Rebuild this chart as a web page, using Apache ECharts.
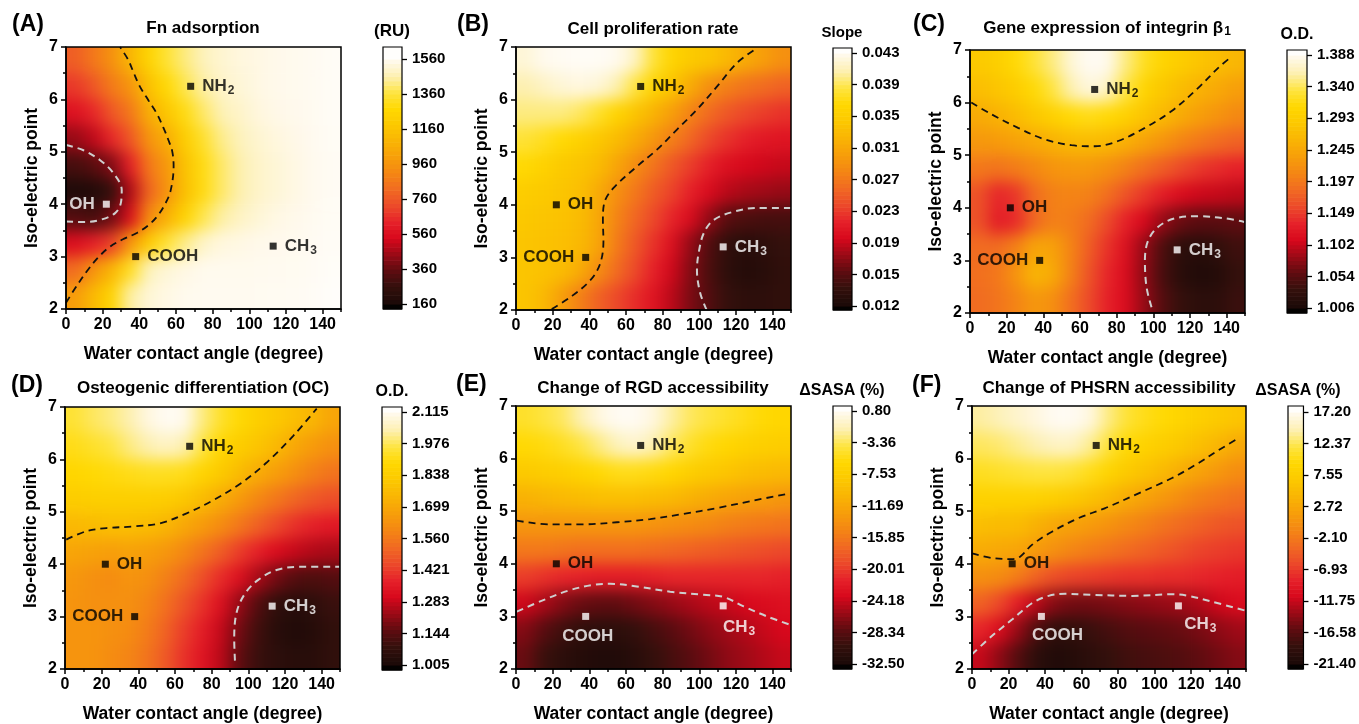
<!DOCTYPE html>
<html><head><meta charset="utf-8">
<script src="https://cdn.jsdelivr.net/npm/echarts@6/dist/echarts.min.js"></script>
<style>html,body{margin:0;padding:0;background:#fff}
#wrap{position:relative;width:1359px;height:724px}
#h,#c{position:absolute;left:0;top:0;width:1359px;height:724px}
#h{filter:blur(8px)}
</style>
</head><body><div id="wrap"><div id="h"></div><div id="c"></div></div>
<script>
// ---------- data ----------
const xCells=[5,15,25,35,45,55,65,75,85,95,105,115,125,135,145];
const yCells=[6.75,6.25,5.75,5.25,4.75,4.25,3.75,3.25,2.75,2.25]; // rows, top to bottom
const xTicks=[0,20,40,60,80,100,120,140];
const xMinorTicks=[10,30,50,70,90,110,130,150];
const yTicks=[2,3,4,5,6,7];
const yMinorTicks=[2.5,3.5,4.5,5.5,6.5];
const markerNames=['NH2','OH','COOH','CH3'];
const markerX=[68,22,38,113];
const markerY=[6.25,4.0,3.0,3.2];

const valsA=[
[780,860,950,1100,1250,1350,1420,1480,1510,1530,1540,1550,1560,1580,1600],
[680,760,870,960,1150,1280,1380,1450,1500,1520,1540,1550,1560,1580,1600],
[570,640,760,860,1060,1180,1300,1400,1470,1500,1530,1545,1555,1575,1600],
[440,500,640,760,960,1060,1220,1340,1430,1480,1510,1530,1545,1570,1595],
[300,340,410,620,860,980,1160,1300,1400,1460,1500,1520,1540,1565,1590],
[180,190,260,480,800,960,1150,1300,1400,1460,1500,1520,1540,1565,1590],
[330,300,380,560,930,1080,1250,1380,1450,1490,1520,1540,1550,1575,1595],
[560,620,700,980,1200,1350,1430,1500,1530,1540,1550,1555,1565,1585,1600],
[820,960,1100,1320,1480,1520,1540,1560,1560,1560,1565,1570,1575,1590,1610],
[990,1120,1250,1450,1520,1540,1560,1570,1570,1570,1575,1580,1585,1600,1620]];
const valsB=[
[0.0421,0.0430,0.0436,0.0439,0.0439,0.0430,0.0415,0.0384,0.0362,0.0349,0.0343,0.0331,0.0318,0.0306,0.0294],
[0.0408,0.0415,0.0421,0.0424,0.0421,0.0408,0.0387,0.0362,0.0343,0.0318,0.0294,0.0281,0.0272,0.0266,0.0260],
[0.0399,0.0399,0.0399,0.0393,0.0380,0.0362,0.0343,0.0325,0.0306,0.0284,0.0266,0.0253,0.0244,0.0238,0.0232],
[0.0384,0.0377,0.0368,0.0359,0.0346,0.0334,0.0318,0.0300,0.0281,0.0263,0.0244,0.0232,0.0222,0.0216,0.0213],
[0.0368,0.0359,0.0349,0.0343,0.0334,0.0312,0.0291,0.0272,0.0253,0.0238,0.0222,0.0210,0.0204,0.0201,0.0198],
[0.0353,0.0349,0.0343,0.0337,0.0318,0.0294,0.0275,0.0256,0.0241,0.0222,0.0207,0.0194,0.0188,0.0185,0.0182],
[0.0346,0.0343,0.0340,0.0334,0.0315,0.0284,0.0263,0.0244,0.0225,0.0207,0.0182,0.0160,0.0154,0.0151,0.0151],
[0.0343,0.0340,0.0337,0.0331,0.0312,0.0278,0.0253,0.0232,0.0210,0.0182,0.0157,0.0139,0.0132,0.0136,0.0142],
[0.0343,0.0340,0.0334,0.0318,0.0291,0.0266,0.0244,0.0222,0.0201,0.0176,0.0154,0.0136,0.0129,0.0132,0.0139],
[0.0343,0.0331,0.0306,0.0281,0.0260,0.0244,0.0229,0.0213,0.0194,0.0173,0.0157,0.0142,0.0136,0.0136,0.0139]];
const valsC=[
[1.289,1.296,1.312,1.331,1.350,1.377,1.396,1.388,1.350,1.323,1.304,1.293,1.281,1.273,1.262],
[1.273,1.281,1.293,1.312,1.335,1.361,1.380,1.369,1.335,1.304,1.285,1.270,1.258,1.247,1.235],
[1.250,1.258,1.270,1.285,1.300,1.312,1.319,1.312,1.300,1.281,1.266,1.250,1.235,1.224,1.212],
[1.228,1.231,1.239,1.247,1.258,1.266,1.270,1.266,1.254,1.239,1.224,1.208,1.197,1.186,1.178],
[1.197,1.193,1.201,1.212,1.224,1.228,1.228,1.220,1.205,1.189,1.174,1.159,1.147,1.140,1.132],
[1.166,1.136,1.147,1.186,1.205,1.208,1.205,1.189,1.166,1.147,1.128,1.113,1.105,1.102,1.098],
[1.166,1.128,1.140,1.182,1.205,1.201,1.186,1.159,1.132,1.109,1.082,1.063,1.056,1.056,1.059],
[1.186,1.186,1.205,1.243,1.239,1.208,1.174,1.144,1.117,1.082,1.048,1.025,1.021,1.029,1.040],
[1.189,1.197,1.224,1.262,1.250,1.205,1.166,1.136,1.113,1.079,1.044,1.021,1.014,1.017,1.033],
[1.186,1.193,1.208,1.228,1.220,1.189,1.159,1.132,1.113,1.082,1.052,1.033,1.025,1.025,1.037]];
const valsD=[
[1.949,1.982,2.004,2.037,2.093,2.137,2.115,2.004,1.937,1.893,1.849,1.815,1.782,1.749,1.693],
[1.915,1.937,1.960,2.004,2.037,2.060,2.037,1.960,1.882,1.838,1.804,1.760,1.704,1.660,1.627],
[1.882,1.893,1.904,1.915,1.926,1.926,1.915,1.871,1.826,1.771,1.715,1.671,1.627,1.582,1.549],
[1.838,1.849,1.849,1.849,1.849,1.838,1.815,1.771,1.715,1.660,1.604,1.560,1.516,1.482,1.460],
[1.760,1.771,1.782,1.782,1.771,1.749,1.704,1.660,1.616,1.560,1.505,1.449,1.405,1.371,1.349],
[1.693,1.682,1.671,1.682,1.671,1.649,1.604,1.549,1.493,1.427,1.371,1.316,1.283,1.260,1.249],
[1.649,1.627,1.616,1.638,1.627,1.582,1.527,1.460,1.394,1.327,1.249,1.183,1.138,1.127,1.138],
[1.638,1.627,1.627,1.627,1.593,1.538,1.471,1.405,1.327,1.227,1.138,1.072,1.049,1.061,1.094],
[1.638,1.638,1.627,1.616,1.571,1.505,1.427,1.360,1.283,1.183,1.105,1.049,1.027,1.038,1.072],
[1.638,1.638,1.616,1.593,1.549,1.482,1.405,1.338,1.271,1.160,1.094,1.061,1.049,1.049,1.072]];
const valsE=[
[-4.53,-3.86,-3.20,-1.53,0.13,1.47,1.47,0.13,-1.86,-3.20,-3.86,-4.53,-5.19,-5.86,-6.19],
[-5.86,-5.53,-4.86,-3.86,-2.53,-1.20,-0.53,-1.53,-3.20,-4.53,-5.53,-6.19,-6.86,-7.19,-7.53],
[-7.86,-7.53,-7.19,-6.53,-5.86,-5.19,-5.19,-5.53,-6.19,-7.19,-7.86,-8.52,-9.19,-9.52,-9.86],
[-10.52,-10.19,-9.86,-9.52,-9.19,-9.19,-9.19,-9.52,-9.86,-10.52,-11.19,-11.85,-12.19,-12.52,-13.19],
[-13.19,-13.19,-13.19,-13.19,-13.19,-13.19,-13.19,-13.52,-13.85,-14.19,-14.52,-15.18,-15.52,-15.85,-16.18],
[-15.85,-15.85,-16.18,-16.52,-16.52,-16.52,-16.52,-16.85,-17.18,-17.52,-17.85,-18.18,-18.51,-18.85,-19.18],
[-19.85,-20.51,-21.18,-21.51,-21.84,-21.84,-21.84,-21.51,-21.18,-21.18,-21.18,-21.18,-21.18,-21.18,-21.51],
[-23.84,-25.17,-26.51,-27.50,-27.84,-27.84,-27.17,-26.51,-25.84,-25.17,-24.51,-24.18,-23.51,-23.18,-22.84],
[-26.51,-28.17,-29.50,-30.50,-30.84,-30.84,-30.17,-29.17,-28.17,-27.17,-26.17,-25.51,-24.84,-24.18,-23.51],
[-27.50,-29.84,-30.84,-31.50,-31.83,-31.83,-31.17,-30.17,-29.17,-28.17,-27.17,-26.17,-25.51,-24.84,-24.18]];
const valsF=[
[14.11,14.88,15.66,16.43,17.97,17.97,16.43,13.34,11.41,10.25,9.48,8.71,7.94,7.16,6.39],
[12.57,12.95,13.73,14.50,15.27,15.27,13.73,11.41,9.48,8.32,7.55,6.78,5.62,4.46,2.92],
[10.64,11.02,11.41,11.80,11.80,11.41,10.25,8.71,7.16,6.01,4.85,3.30,2.15,0.99,-0.17],
[8.32,8.32,8.32,8.32,7.94,7.16,6.01,4.85,3.30,2.15,0.99,-0.17,-1.33,-2.10,-2.87],
[5.62,5.23,5.23,4.08,2.92,2.15,1.37,0.60,-0.56,-1.33,-2.49,-3.26,-4.03,-4.80,-5.19],
[3.30,2.92,2.53,1.37,0.22,-0.94,-1.71,-2.49,-3.26,-4.03,-4.80,-5.57,-6.35,-6.73,-7.12],
[0.22,-0.17,-1.71,-4.03,-5.57,-6.35,-6.73,-7.12,-7.50,-7.50,-7.89,-7.89,-8.28,-8.66,-9.05],
[-4.03,-5.96,-9.05,-12.14,-14.45,-15.22,-15.22,-14.84,-14.45,-14.07,-13.68,-13.29,-12.52,-11.36,-10.59],
[-8.28,-10.59,-13.68,-17.15,-19.08,-19.08,-18.31,-17.54,-16.77,-16.38,-16.00,-15.61,-14.84,-14.07,-13.29],
[-11.75,-14.07,-16.77,-19.47,-20.63,-20.24,-19.47,-18.70,-17.93,-17.54,-17.15,-16.77,-16.00,-15.22,-14.45]];

const cbTicksA=['160','360','560','760','960','1160','1360','1560'];
const cbTicksB=['0.012','0.015','0.019','0.023','0.027','0.031','0.035','0.039','0.043'];
const cbTicksC=['1.006','1.054','1.102','1.149','1.197','1.245','1.293','1.340','1.388'];
const cbTicksD=['1.005','1.144','1.283','1.421','1.560','1.699','1.838','1.976','2.115'];
const cbTicksE=['-32.50','-28.34','-24.18','-20.01','-15.85','-11.69','-7.53','-3.36','0.80'];
const cbTicksF=['-21.40','-16.58','-11.75','-6.93','-2.10','2.72','7.55','12.37','17.20'];

const darkA=[[0,2.12],[6,2.45],[12,2.75],[18,3.0],[24,3.19],[31,3.33],[38.6,3.45],[45,3.6],[50,3.78],[54,4.0],[57,4.25],[58.7,4.72],[58,5.0],[55.9,5.22],[53,5.47],[49.5,5.73],[45,5.98],[40.4,6.24],[37,6.5],[34,6.75],[29.5,7.0]];
const lightA=[[0,5.13],[9.5,5.03],[18.6,4.84],[25.9,4.59],[30.4,4.27],[29.9,4.02],[26.8,3.83],[18.6,3.7],[9.5,3.66],[0,3.67]];
const darkB=[[19.5,2.02],[29.5,2.24],[40.4,2.56],[45.9,2.88],[47.7,3.32],[47.4,3.7],[48.1,4.03],[53.2,4.32],[66,4.73],[76.9,5.05],[87.8,5.43],[98.7,5.81],[109.7,6.25],[120.6,6.7],[131.5,6.98]];
const lightB=[[104,2.0],[100.5,2.32],[98.7,2.76],[99.6,3.08],[102.4,3.46],[107.8,3.71],[118.8,3.87],[131.5,3.94],[149.7,3.94]];
const darkC=[[0.7,6.0],[11.6,5.78],[26.2,5.52],[40.8,5.3],[55.3,5.19],[68.1,5.17],[80.8,5.27],[95.4,5.52],[110,5.84],[124.5,6.28],[135.4,6.66],[141.8,6.85]];
const lightC=[[99,2.11],[96.3,2.49],[95.4,3.0],[97.2,3.38],[102.7,3.64],[111.8,3.8],[124.5,3.84],[139.1,3.8],[149.6,3.73]];
const darkD=[[0.7,4.47],[11.7,4.63],[22.6,4.69],[37.1,4.72],[51.7,4.78],[66.3,4.97],[80.8,5.22],[95.4,5.53],[110,5.94],[124.5,6.45],[137.3,6.97]];
const lightD=[[92.7,2.16],[92.3,2.57],[93.6,3.08],[98.2,3.44],[105.4,3.70],[115.4,3.89],[128.2,3.95],[149.6,3.95]];
const darkE=[[0.4,4.82],[18.6,4.75],[36.8,4.75],[55,4.79],[73.2,4.85],[91.4,4.95],[109.6,5.06],[127.8,5.19],[149.6,5.34]];
const lightE=[[0.4,3.09],[14.9,3.31],[29.5,3.5],[42.2,3.6],[51.3,3.62],[65.9,3.57],[84.1,3.47],[102.3,3.41],[113.2,3.37],[124.2,3.19],[136.9,3.0],[149.6,2.84]];
const darkF=[[0,4.2],[11,4.11],[21.9,4.09],[26.5,4.14],[32.8,4.36],[43.8,4.61],[58.4,4.87],[73,5.06],[91.2,5.34],[109.5,5.63],[122.3,5.88],[135,6.16],[146,6.39]];
const lightF=[[0,2.28],[11,2.63],[21.9,2.94],[32.8,3.25],[41.9,3.39],[51.1,3.43],[65.7,3.41],[87.6,3.39],[109.5,3.42],[118.6,3.39],[131.4,3.28],[149.6,3.11]];

// ---------- styling / layout ----------
const FONT='"Liberation Sans", Arial, Helvetica, sans-serif';
const CMAP=['#000000','#1c0a08','#34100c','#5e0c10','#9a0a16','#d8081c','#e6222a','#ec4a2a','#f16a22','#f48614','#f79e0a','#f9b404','#fcc800','#ffd800','#fee440','#fdf0b0','#fff9ec','#ffffff'];
const BLK='#000', WHT='#fff';
const R=(pos,dx,dy)=>({pos:pos,off:[dx||0,dy||0]});
const panels=[
 {letter:'(A)',title:'Fn adsorption',unit:'(RU)',vals:valsA,ticks:cbTicksA,dark:darkA,light:lightA,
  grid:{left:66,top:47,width:275,height:262},cb:{left:383,top:47,width:19,height:262},extT:12,extB:5,
  letterPos:[12,25],titlePos:[203,28],unitPos:[392,31],
  mColors:[BLK,WHT,BLK,BLK],lColors:[BLK,WHT,BLK,BLK],lPos:[R('right'),R('left'),R('right'),R('right')]},
 {letter:'(B)',title:'Cell proliferation rate',unit:'Slope',vals:valsB,ticks:cbTicksB,dark:darkB,light:lightB,
  grid:{left:516,top:47,width:275,height:263},cb:{left:833,top:48,width:19,height:262},extT:5,extB:4,
  letterPos:[457,25],titlePos:[653,29],unitPos:[842,33],
  mColors:[BLK,BLK,BLK,WHT],lColors:[BLK,BLK,BLK,WHT],lPos:[R('right'),R('right'),R('left'),R('right')]},
 {letter:'(C)',title:'Gene expression of integrin β{s|1}',unit:'O.D.',vals:valsC,ticks:cbTicksC,dark:darkC,light:lightC,
  grid:{left:970,top:50,width:275,height:263},cb:{left:1287,top:50,width:20,height:263},extT:5,extB:5,
  letterPos:[913,25],titlePos:[1107,28],unitPos:[1297,35],
  mColors:[BLK,BLK,BLK,WHT],lColors:[BLK,BLK,BLK,WHT],lPos:[R('right'),R('right'),R('left'),R('right')]},
 {letter:'(D)',title:'Osteogenic differentiation (OC)',unit:'O.D.',vals:valsD,ticks:cbTicksD,dark:darkD,light:lightD,
  grid:{left:65,top:407,width:275,height:263},cb:{left:382,top:407,width:20,height:263},extT:5,extB:5,
  letterPos:[11,386],titlePos:[203,388],unitPos:[392,392],
  mColors:[BLK,BLK,BLK,WHT],lColors:[BLK,BLK,BLK,WHT],lPos:[R('right'),R('right'),R('left'),R('right')]},
 {letter:'(E)',title:'Change of RGD accessibility',unit:'ΔSASA (%)',vals:valsE,ticks:cbTicksE,dark:darkE,light:lightE,
  grid:{left:516,top:406,width:275,height:263},cb:{left:833,top:406,width:19,height:263},extT:5,extB:5,
  letterPos:[456,385],titlePos:[653,388],unitPos:[842,391],
  mColors:[BLK,BLK,WHT,WHT],lColors:[BLK,BLK,WHT,WHT],lPos:[R('right'),R('right'),R('bottom',2,0),R('bottom',16,-1)]},
 {letter:'(F)',title:'Change of PHSRN accessibility',unit:'ΔSASA (%)',vals:valsF,ticks:cbTicksF,dark:darkF,light:lightF,
  grid:{left:972,top:406,width:274,height:263},cb:{left:1288,top:406,width:20,height:263},extT:6,extB:5,
  letterPos:[912,386],titlePos:[1109,388],unitPos:[1298,391],
  mColors:[BLK,BLK,WHT,WHT],lColors:[BLK,BLK,WHT,WHT],lPos:[R('right'),R('right'),R('bottom',16,-1),R('bottom',22,-4)]}
];

const heatChart=echarts.init(document.getElementById('h'),null,{renderer:'canvas'});
const chart=echarts.init(document.getElementById('c'),null,{renderer:'canvas'});
const hOpt={animation:false,backgroundColor:'transparent',grid:[],xAxis:[],yAxis:[],series:[],visualMap:[]};
const option={animation:false,backgroundColor:'transparent',grid:[],xAxis:[],yAxis:[],series:[],visualMap:[],graphic:[]};
const DX=xCells[1]-xCells[0], DY=yCells[0]-yCells[1];
const EXT=24; // bleed of edge cells (hidden by clip) so the soft layer keeps its edge colours
const lineStyleAx={color:'#000',width:1.5};
const lblStyle={color:'#000',fontWeight:'bold',fontSize:16,fontFamily:FONT};
const nameStyle={color:'#000',fontWeight:'bold',fontSize:17.5,fontFamily:FONT};
function richName(n){return n.replace(/(\d+)/g,'{s|$1}').replace(/^([^{]+)/,'{b|$1}');}
let clipPath='';

panels.forEach(function(p){
  const g=p.grid;
  clipPath+='M'+g.left+','+g.top+' H'+(g.left+g.width)+' V'+(g.top+g.height)+' H'+g.left+' Z ';
  const tv=p.ticks.map(parseFloat);
  const T0=tv[0], T7=tv[tv.length-1], RG=T7-T0, n=p.ticks.length;
  const vmMin=T0-0.06*RG, vmMax=T7+0.06*RG;

  // ---- soft cell layer ----
  const hgi=hOpt.grid.length;
  hOpt.grid.push(Object.assign({show:false},g));
  hOpt.xAxis.push({gridIndex:hgi,type:'value',min:0,max:150,show:false});
  hOpt.yAxis.push({gridIndex:hgi,type:'value',min:2,max:7,show:false});
  const heat=[];
  p.vals.forEach(function(row,r){row.forEach(function(v,c){heat.push([xCells[c],yCells[r],v]);});});
  const hsi=hOpt.series.length;
  hOpt.series.push({type:'custom',xAxisIndex:hgi,yAxisIndex:hgi,data:heat,silent:true,
    renderItem:function(params,api){
      const x=api.value(0),y=api.value(1);
      const a=api.coord([x-DX/2,y+DY/2]), b=api.coord([x+DX/2,y-DY/2]);
      let x0=a[0],y0=a[1],x1=b[0]+0.6,y1=b[1]+0.6;
      if(x===xCells[0])x0-=EXT; if(x===xCells[xCells.length-1])x1+=EXT;
      if(y===yCells[0])y0-=EXT; if(y===yCells[yCells.length-1])y1+=EXT;
      return {type:'rect',shape:{x:x0,y:y0,width:x1-x0,height:y1-y0},style:{fill:api.visual('color')}};
    }});
  hOpt.visualMap.push({type:'continuous',show:false,seriesIndex:hsi,dimension:2,min:vmMin,max:vmMax,inRange:{color:CMAP}});

  // ---- main layer ----
  const gi=option.grid.length;
  option.grid.push(Object.assign({show:true,borderColor:'#000',borderWidth:1.5,backgroundColor:'transparent',z:6},g));
  option.grid.push(Object.assign({show:true,borderColor:'#000',borderWidth:1.2,backgroundColor:'transparent',z:6},p.cb));
  const cgi=gi+1;
  const xi=option.xAxis.length, yi=option.yAxis.length;
  option.xAxis.push({gridIndex:gi,type:'value',min:0,max:150,position:'bottom',z:6,
    name:'Water contact angle (degree)',nameLocation:'middle',nameGap:36,nameTextStyle:nameStyle,
    axisLine:{show:true,onZero:false,lineStyle:lineStyleAx},
    axisTick:{show:true,length:5,customValues:xTicks,lineStyle:lineStyleAx},
    axisLabel:Object.assign({customValues:xTicks,margin:8},lblStyle),splitLine:{show:false}});
  option.xAxis.push({gridIndex:gi,type:'value',min:0,max:150,position:'bottom',z:6,
    axisLine:{show:false,onZero:false},axisTick:{show:true,length:3,customValues:xMinorTicks,lineStyle:lineStyleAx},
    axisLabel:{show:false},splitLine:{show:false}});
  option.yAxis.push({gridIndex:gi,type:'value',min:2,max:7,position:'left',z:6,
    name:'Iso-electric point',nameLocation:'middle',nameGap:25,nameTextStyle:nameStyle,
    axisLine:{show:true,onZero:false,lineStyle:lineStyleAx},
    axisTick:{show:true,length:5,customValues:yTicks,lineStyle:lineStyleAx},
    axisLabel:Object.assign({customValues:yTicks,margin:8},lblStyle),splitLine:{show:false}});
  option.yAxis.push({gridIndex:gi,type:'value',min:2,max:7,position:'left',z:6,
    axisLine:{show:false,onZero:false},axisTick:{show:true,length:3,customValues:yMinorTicks,lineStyle:lineStyleAx},
    axisLabel:{show:false},splitLine:{show:false}});
  // colorbar axes
  const tickVals=p.ticks.map(function(_,k){return T0+k*RG/(n-1);});
  const pxPer=RG/(p.cb.height-p.extT-p.extB);
  const cbMin=T0-p.extB*pxPer, cbMax=T7+p.extT*pxPer;
  option.xAxis.push({gridIndex:cgi,type:'value',min:0,max:1,show:false,axisLine:{onZero:false}});
  option.yAxis.push({gridIndex:cgi,type:'value',min:cbMin,max:cbMax,position:'right',z:6,
    axisLine:{show:false,onZero:false},
    axisTick:{show:true,length:5,customValues:tickVals,lineStyle:{color:'#000',width:1.3}},
    axisLabel:{customValues:tickVals,margin:10,color:'#000',fontWeight:'bold',fontSize:15,fontFamily:FONT,
      formatter:function(v){let b=0;for(let k=1;k<n;k++){if(Math.abs(tickVals[k]-v)<Math.abs(tickVals[b]-v))b=k;}return p.ticks[b];}},
    splitLine:{show:false}});
  const si=option.series.length;
  const bands=[[cbMin,T0,T0-0.05*RG]];
  const nb=(n-1)*8;
  for(let k=0;k<nb;k++){const lo=T0+k*RG/nb, hi=T0+(k+1)*RG/nb; bands.push([lo,hi,(lo+hi)/2]);}
  bands.push([T7,cbMax,T7+0.05*RG]);
  option.series.push({type:'custom',xAxisIndex:xi+2,yAxisIndex:yi+2,data:bands,z:1,silent:true,
    encode:{y:[0,1]},
    renderItem:function(params,api){
      const lo=api.value(0),hi=api.value(1);
      const a=api.coord([0,hi]), b=api.coord([1,lo]);
      return {type:'rect',shape:{x:a[0],y:a[1],width:b[0]-a[0],height:b[1]-a[1]+0.6},style:{fill:api.visual('color')}};
    }});
  option.visualMap.push({type:'continuous',show:false,seriesIndex:si,dimension:2,min:vmMin,max:vmMax,inRange:{color:CMAP}});
  option.series.push({type:'line',xAxisIndex:xi,yAxisIndex:yi,data:p.dark,showSymbol:false,smooth:0.35,z:4,silent:true,
    lineStyle:{color:'#111',width:1.8,type:[7,5]}});
  option.series.push({type:'line',xAxisIndex:xi,yAxisIndex:yi,data:p.light,showSymbol:false,smooth:0.35,z:4,silent:true,
    lineStyle:{color:'#cfcfcf',width:2,type:[7,5]}});
  const pts=markerNames.map(function(nm,k){
    const lc=p.lColors[k];
    return {value:[markerX[k],markerY[k]],name:nm,itemStyle:{color:p.mColors[k]},
      label:{show:true,position:p.lPos[k].pos,offset:p.lPos[k].off,distance:8,
        formatter:richName(nm),
        rich:{b:{fontSize:17,fontWeight:'bold',fontFamily:FONT,color:lc},
              s:{fontSize:12,fontWeight:'bold',fontFamily:FONT,color:lc,verticalAlign:'bottom',padding:[9,0,0,1]}}}};
  });
  option.series.push({type:'scatter',xAxisIndex:xi,yAxisIndex:yi,data:pts,symbol:'rect',symbolSize:7,z:5,silent:true});
  option.graphic.push({type:'text',x:p.letterPos[0],y:p.letterPos[1],style:{text:p.letter,font:'bold 23px '+FONT,fill:'#000',align:'left',verticalAlign:'middle',textAlign:'left',textVerticalAlign:'middle'}});
  option.graphic.push({type:'text',x:p.titlePos[0],y:p.titlePos[1],style:{text:p.title,font:'bold 17px '+FONT,fill:'#000',align:'center',verticalAlign:'middle',textAlign:'center',textVerticalAlign:'middle',
    rich:{s:{font:'bold 12px '+FONT,fill:'#000',verticalAlign:'bottom',padding:[8,0,0,1]}}}});
  option.graphic.push({type:'text',x:p.unitPos[0],y:p.unitPos[1],style:{text:p.unit,font:'bold '+(p.unit==='Slope'?15:p.unit==='(RU)'?17:16)+'px '+FONT,fill:'#000',align:'center',verticalAlign:'middle',textAlign:'center',textVerticalAlign:'middle'}});
});
document.getElementById('h').style.clipPath="path('"+clipPath.trim()+"')";
heatChart.setOption(hOpt);
chart.setOption(option);
</script></body></html>
